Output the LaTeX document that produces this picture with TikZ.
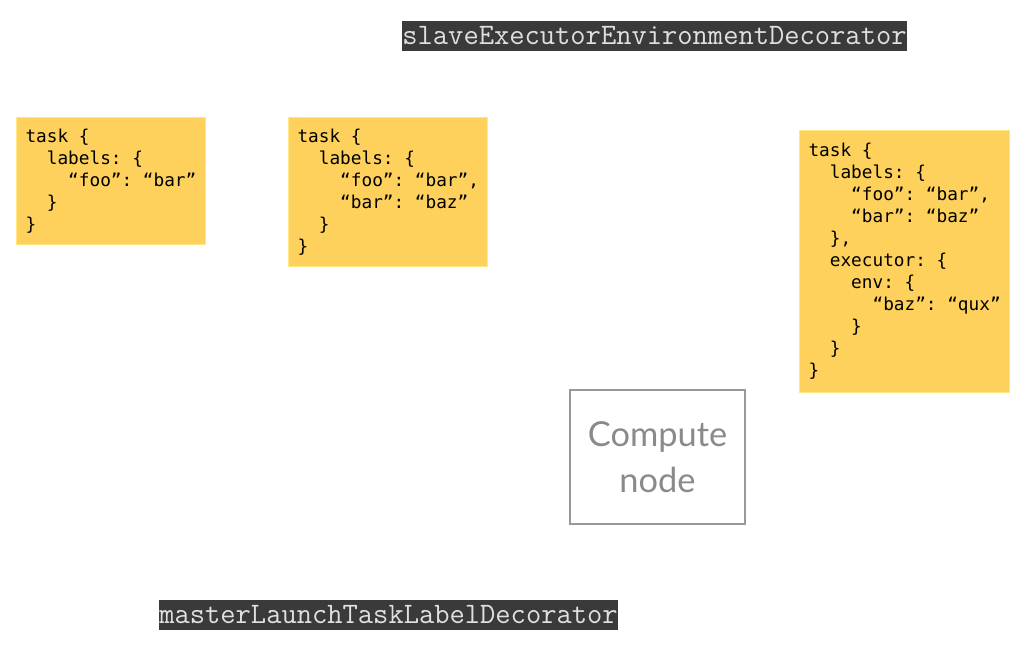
\documentclass[tikz,border=0pt]{standalone}
\usepackage{fontspec}
\setmonofont{DejaVu Sans Mono}
\newfontfamily\hdrfont{Latin Modern Mono}
\newfontfamily\boxfont{Lato}
\newcommand\ind[1]{\hspace*{#1\fontcharwd\font`x}}
\definecolor{taskfill}{HTML}{FDD15C}
\definecolor{taskline}{HTML}{FFE784}
\definecolor{hdrfill}{HTML}{3A3A3A}
\definecolor{hdrtext}{HTML}{E0E0E0}
\definecolor{nodegray}{HTML}{999999}
\tikzset{ task/.style = { rectangle
                        , fill = taskfill
                        , draw = taskline
                        , thick
                        , anchor = north west
                        , align = left
                        , inner xsep = 6.75pt
                        , inner ysep = 0pt
                        , font = \ttfamily\fontsize{13.3}{16.5}\selectfont
                        },
          deco/.style = { rectangle
                        , fill = hdrfill
                        , text = hdrtext
                        , inner sep = 0pt
                        , minimum height = 22.5pt
                        , font = \hdrfont\fontsize{22.25}{22}\selectfont
                        },
          host/.style = { rectangle
                        , draw = nodegray
                        , thick
                        , text = nodegray!90!black
                        , align = center
                        , minimum width = 131.25pt
                        , minimum height = 100.5pt
                        , font = \boxfont\fontsize{25.8}{35}\selectfont
                        }
        }
\begin{document}
\begin{tikzpicture}[x=0.75pt, y=-0.75pt]
  \useasboundingbox (0,0) rectangle (1026,651);
  % decorators
  \node[deco] (slavedeco) at (654.5,36) {slaveExecutorEnvironmentDecorator};
  \node[deco] (masterdeco) at (388.5,615) {masterLaunchTaskLabelDecorator};
  % task states
  \node[task, text width=128.25pt, minimum height=95.25pt] (task1) at (16,117)
    {task\ind1\{\\
     \ind2labels:\ind1\{\\
     \ind4“foo”:\ind1“bar”\\
     \ind2\}\\
     \}};
  \node[task, text width=135.75pt, minimum height=111.75pt] (task2) at (288,117)
    {task\ind1\{\\
     \ind2labels:\ind1\{\\
     \ind4“foo”:\ind1“bar”,\\
     \ind4“bar”:\ind1“baz”\\
     \ind2\}\\
     \}};
  \node[task, text width=144pt, minimum height=196.5pt] (task3) at (799,130)
    {task\ind1\{\\
     \ind2labels:\ind1\{\\
     \ind4“foo”:\ind1“bar”,\\
     \ind4“bar”:\ind1“baz”\\
     \ind2\},\\
     \ind2executor:\ind1\{\\
     \ind4env:\ind1\{\\
     \ind6“baz”:\ind1“qux”\\
     \ind4\}\\
     \ind2\}\\
     \}};
  % the agent
  \node[host] (compute) at (657.5,457) {Compute\\node};
\end{tikzpicture}
\end{document}
